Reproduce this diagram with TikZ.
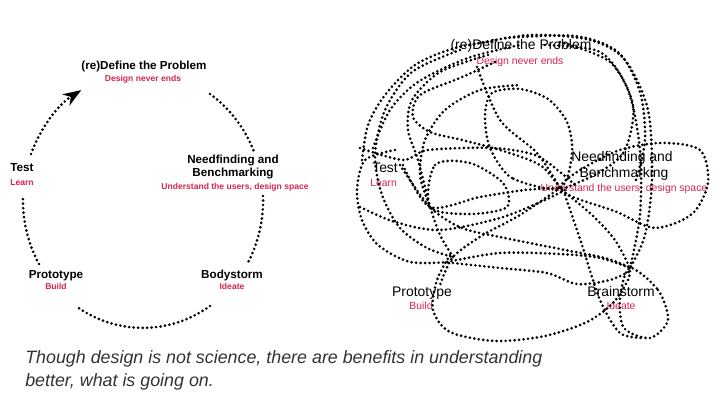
\documentclass[tikz,border=0pt]{standalone}
\usepackage{fontspec}
\setmainfont{Liberation Sans}
\usetikzlibrary{arrows.meta}
\definecolor{stagered}{RGB}{214,36,76}
\definecolor{notegray}{RGB}{50,50,50}

\begin{document}
\begin{tikzpicture}[
  x=0.25mm, y=-0.25mm,
  dots/.style={line width=2.1pt,dash pattern=on 0pt off 3.2pt,line cap=round},
  stg/.style={anchor=base,inner sep=0pt,font=\fontsize{8.3}{10}\selectfont\bfseries},
  sub/.style={anchor=base,inner sep=0pt,text=stagered,font=\fontsize{6.1}{7}\selectfont\bfseries},
  rstg/.style={anchor=base,inner sep=0pt,font=\fontsize{9.9}{12}\selectfont},
  rsub/.style={anchor=base,inner sep=0pt,text=stagered,font=\fontsize{7.4}{9}\selectfont},
  note/.style={anchor=base west,inner sep=0pt,text=notegray,font=\fontsize{12.7}{15}\selectfont\itshape}
]
\useasboundingbox (0,0) rectangle (720,405);
% the neat cycle
\node[stg] (define) at (144,70) {(re)Define the Problem};
\node[sub] (defineS) at (143,82) {Design never ends};
\node[stg] (need) at (233,164) {Needfinding and};
\node[stg] (needB) at (233,177) {Benchmarking};
\node[sub] (needS) at (235,190) {Understand the users, design space};
\node[stg] (body) at (232,279) {Bodystorm};
\node[sub] (bodyS) at (232,290) {Ideate};
\node[stg] (proto) at (56,279) {Prototype};
\node[sub] (protoS) at (56,290) {Build};
\node[stg,anchor=base west] (test) at (10,172) {Test};
\node[sub,anchor=base west] (testS) at (10,186) {Learn};
\coordinate (a1) at (210,94);
\coordinate (a2) at (263,196);
\coordinate (a3) at (210,306);
\coordinate (a4) at (39,264);
\coordinate (a5) at (31,154);
\draw[dots] (a1) arc[start angle=56,end angle=22,x radius=3cm,y radius=3.2cm];
\draw[dots] (a2) arc[start angle=2,end angle=-29,x radius=3cm,y radius=3.2cm];
\draw[dots] (a3) arc[start angle=-56,end angle=-124,x radius=3cm,y radius=3.2cm];
\draw[dots] (a4) arc[start angle=-150,end angle=-181,x radius=3cm,y radius=3.2cm];
\draw[dots,-{Stealth[length=4.6mm,width=3.4mm,line width=0pt]}] (a5)
  arc[start angle=159,end angle=121,x radius=3cm,y radius=3.2cm];
% the real one
\node[rstg] (rdefine) at (521,50) {(re)Define the Problem};
\node[rsub] (rdefineS) at (520,65) {Design never ends};
\node[rstg] (rneed) at (622,162) {Needfinding and};
\node[rstg] (rneedB) at (624,178) {Benchmarking};
\node[rsub] (rneedS) at (624,192) {Understand the users, design space};
\node[rstg] (rbrain) at (621,297) {Brainstorm};
\node[rsub] (rbrainS) at (621,310) {Ideate};
\node[rstg] (rproto) at (422,297) {Prototype};
\node[rsub] (rprotoS) at (421,310) {Build};
\node[rstg,anchor=base west] (rtest) at (372,173) {Test};
\node[rsub,anchor=base west] (rtestS) at (370,187) {Learn};
\draw[dots] plot[smooth] coordinates {(362,160) (368,125) (385,95) (415,65) (455,48) (500,40)};
\draw[dots] plot[smooth] coordinates {(373,148) (390,110) (418,82) (468,58) (520,45)};
\draw[dots] plot[smooth] coordinates {(495,62) (460,78) (420,95) (413,117) (430,132) (462,140) (500,150) (540,165) (560,188)};
\draw[dots] plot[smooth cycle] coordinates {(560,188) (512,178) (490,148) (485,115) (492,93) (520,89) (548,99) (567,122) (572,153)};
\draw[dots] plot[smooth] coordinates {(545,45) (600,52) (628,90) (640,150) (640,215) (630,268)};
\draw[dots] plot[smooth] coordinates {(560,42) (610,62) (633,105) (625,150) (600,172) (565,188)};
\draw[dots] plot[smooth] coordinates {(470,45) (530,35) (590,40) (625,60) (648,110) (652,180) (645,235) (630,268)};
\draw[dots] plot[smooth] coordinates {(505,38) (575,36) (618,52) (640,92) (645,140) (636,180)};
\draw[dots] plot[smooth cycle] coordinates {(560,188) (612,153) (660,143) (700,150) (708,183) (692,214) (655,228) (617,212)};
\draw[dots] plot[smooth] coordinates {(360,148) (403,160) (428,150) (493,148) (535,155) (560,172) (575,185)};
\draw[dots] plot[smooth cycle] coordinates {(430,207) (435,165) (470,163) (503,183) (507,207) (470,214)};
\draw[dots] plot[smooth] coordinates {(395,150) (365,160) (357,190) (362,220) (378,245) (410,262) (450,262)};
\draw[dots] plot[smooth] coordinates {(460,50) (412,72) (385,110) (375,155) (382,195) (400,228) (427,248) (453,257)};
\draw[dots] plot[smooth] coordinates {(488,55) (440,72) (412,100) (408,130) (418,160) (430,207)};
\draw[dots] plot[smooth] coordinates {(403,165) (430,207) (480,197) (525,190) (562,188)};
\draw[dots] plot[smooth] coordinates {(560,188) (520,215) (483,235) (453,257) (440,285)};
\draw[dots] plot[smooth] coordinates {(450,255) (437,280) (433,310) (450,332) (495,341) (545,336) (587,322) (613,303) (628,280) (630,268)};
\draw[dots] plot[smooth cycle] coordinates {(630,268) (658,290) (668,320) (650,338) (624,328) (620,298)};
\draw[dots] plot[smooth] coordinates {(447,262) (500,253) (560,254) (600,258) (630,268)};
\draw[dots] plot[smooth] coordinates {(453,263) (500,268) (547,273) (577,284) (610,280) (632,270)};
\draw[dots] plot[smooth] coordinates {(400,165) (430,207) (462,228) (505,238) (565,250) (605,258) (632,268)};
\draw[dots] plot[smooth] coordinates {(360,207) (395,222) (440,230) (500,218) (545,200) (565,190)};
\draw[dots] plot[smooth] coordinates {(562,190) (592,215) (615,240) (630,268)};
\draw[dots] plot[smooth] coordinates {(565,195) (582,245) (600,300) (620,333) (645,338)};
\draw[dots] plot[smooth] coordinates {(453,257) (440,235) (430,207) (420,175) (425,140) (445,110) (480,90) (520,85)};
\draw[dots] plot[smooth] coordinates {(477,67) (500,120) (537,153) (560,188)};
% caption
\node[note] (cap1) at (25,364) {Though design is not science, there are benefits in understanding};
\node[note] (cap2) at (25,387) {better, what is going on.};
\end{tikzpicture}
\end{document}
